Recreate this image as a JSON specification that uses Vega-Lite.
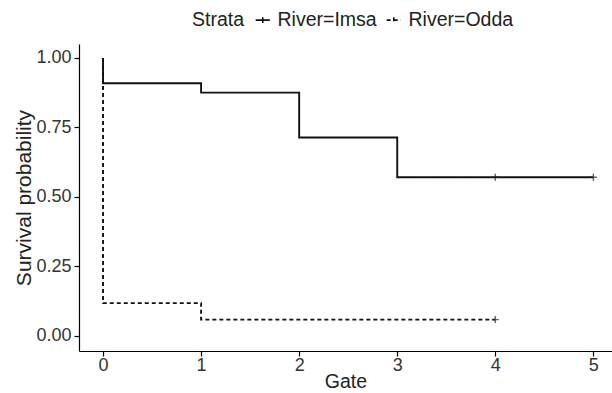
{
  "$schema": "https://vega.github.io/schema/vega-lite/v6.json",
  "width": 533,
  "height": 307,
  "autosize": {"type": "none"},
  "padding": {"left": 79, "top": 44, "right": 0, "bottom": 42},
  "background": "white",
  "config": {
    "view": {"stroke": null},
    "font": "Liberation Sans",
    "axis": {
      "grid": false,
      "domainColor": "#000000",
      "domainWidth": 1.2,
      "tickColor": "#000000",
      "tickSize": 5,
      "tickWidth": 1.2,
      "labelFont": "Liberation Sans",
      "labelFontSize": 18,
      "labelColor": "#333333",
      "titleFont": "Liberation Sans",
      "titleFontSize": 19.5,
      "titleFontWeight": "normal",
      "titleColor": "#222222"
    },
    "legend": {
      "labelFont": "Liberation Sans",
      "labelFontSize": 19.5,
      "labelColor": "#222222",
      "titleFont": "Liberation Sans",
      "titleFontSize": 19.5,
      "titleFontWeight": "normal",
      "titleColor": "#222222"
    }
  },
  "datasets": {
    "curve": [
      {"river": "River=Imsa", "gate": 0, "surv": 1.0, "ord": 0},
      {"river": "River=Imsa", "gate": 0, "surv": 0.909, "ord": 1},
      {"river": "River=Imsa", "gate": 1, "surv": 0.875, "ord": 2},
      {"river": "River=Imsa", "gate": 2, "surv": 0.714, "ord": 3},
      {"river": "River=Imsa", "gate": 3, "surv": 0.571, "ord": 4},
      {"river": "River=Imsa", "gate": 5, "surv": 0.571, "ord": 5},
      {"river": "River=Odda", "gate": 0, "surv": 1.0, "ord": 0},
      {"river": "River=Odda", "gate": 0, "surv": 0.118, "ord": 1},
      {"river": "River=Odda", "gate": 1, "surv": 0.059, "ord": 2},
      {"river": "River=Odda", "gate": 4, "surv": 0.059, "ord": 3}
    ],
    "censor": [
      {"river": "River=Imsa", "gate": 4, "surv": 0.571},
      {"river": "River=Imsa", "gate": 5, "surv": 0.571},
      {"river": "River=Odda", "gate": 4, "surv": 0.059}
    ]
  },
  "layer": [
    {
      "data": {"name": "curve"},
      "mark": {"type": "line", "interpolate": "step-after", "color": "#111111", "strokeWidth": 1.9},
      "encoding": {
        "x": {
          "field": "gate", "type": "quantitative", "title": "Gate",
          "scale": {"domain": [-0.245, 5.19], "nice": false, "zero": false},
          "axis": {"values": [0, 1, 2, 3, 4, 5], "format": "d", "labelPadding": 0, "titlePadding": -2}
        },
        "y": {
          "field": "surv", "type": "quantitative", "title": "Survival probability",
          "scale": {"domain": [-0.054, 1.05], "nice": false, "zero": false},
          "axis": {"values": [0, 0.25, 0.5, 0.75, 1], "format": ".2f", "labelPadding": 3, "titlePadding": 1, "titleFontSize": 21}
        },
        "strokeDash": {
          "field": "river", "type": "nominal",
          "scale": {"domain": ["River=Imsa", "River=Odda"], "range": [[1, 0], [4, 3]]},
          "legend": {
            "title": "Strata",
            "orient": "none",
            "legendX": 113,
            "legendY": -34,
            "direction": "horizontal",
            "titleOrient": "left",
            "titlePadding": 8,
            "symbolType": "M-1,0H1M0,-0.4V0.4",
            "symbolSize": 200,
            "symbolStrokeWidth": 1.6,
            "symbolStrokeColor": "#111111",
            "labelOffset": 5,
            "columnPadding": 6
          }
        },
        "order": {"field": "ord", "type": "quantitative"}
      }
    },
    {
      "data": {"name": "censor"},
      "mark": {"type": "point", "shape": "M-1,0H1M0,-1V1", "size": 50, "stroke": "#222222", "strokeWidth": 1.4, "filled": false},
      "encoding": {
        "x": {"field": "gate", "type": "quantitative"},
        "y": {"field": "surv", "type": "quantitative"}
      }
    }
  ]
}
